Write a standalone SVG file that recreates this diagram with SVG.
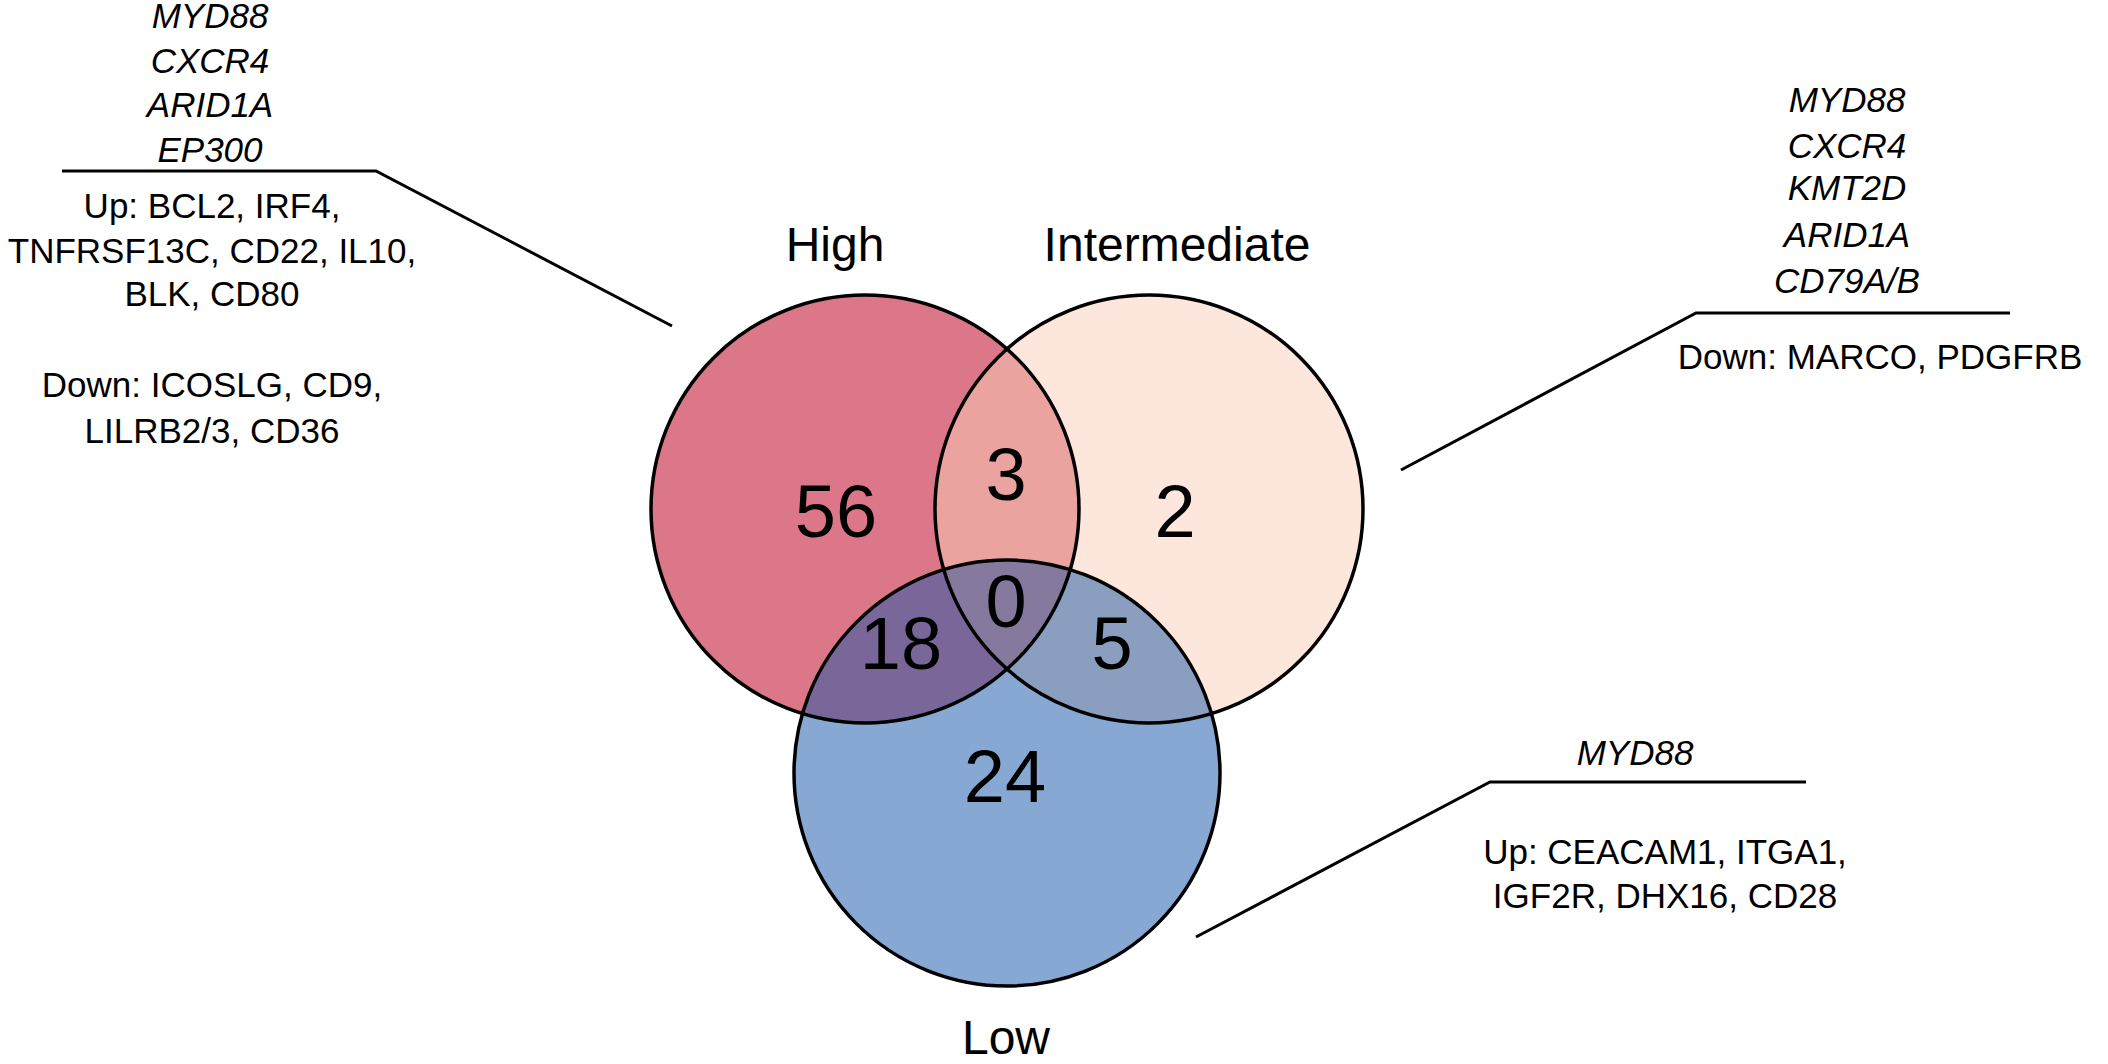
<svg xmlns="http://www.w3.org/2000/svg" width="2108" height="1064" viewBox="0 0 2108 1064">
<style>
text{font-family:"Liberation Sans",Arial,sans-serif;fill:#000;text-anchor:middle}
.g{font-style:italic;font-size:35px}
.t{font-size:35px}
.lab{font-size:48px}
.n{font-size:74px}
.ol{fill:none;stroke:#000;stroke-width:3.5}
.ln{fill:none;stroke:#000;stroke-width:3}
</style>
<defs>
<clipPath id="cH"><circle cx="865" cy="509" r="214"/></clipPath>
<clipPath id="cI"><circle cx="1149" cy="509" r="214"/></clipPath>
<clipPath id="cL"><circle cx="1007" cy="773" r="213"/></clipPath>
</defs>
<rect width="2108" height="1064" fill="#fff"/>
<g id="fills">
<circle cx="865" cy="509" r="214" fill="#dc7789"/>
<circle cx="1149" cy="509" r="214" fill="#fde6dc"/>
<circle cx="1007" cy="773" r="213" fill="#87a8d2"/>
<g clip-path="url(#cH)"><circle cx="1149" cy="509" r="214" fill="#eba3a0"/><circle cx="1007" cy="773" r="213" fill="#7a6799"/></g>
<g clip-path="url(#cI)"><circle cx="1007" cy="773" r="213" fill="#8a9ebf"/></g>
<g clip-path="url(#cH)"><g clip-path="url(#cI)"><circle cx="1007" cy="773" r="213" fill="#857a9e"/></g></g>
</g>
<g id="high"><circle class="ol" cx="865" cy="509" r="214"/><text class="lab" x="835" y="261">High</text></g>
<g id="intermediate"><circle class="ol" cx="1149" cy="509" r="214"/><text class="lab" x="1177" y="261">Intermediate</text></g>
<g id="low"><circle class="ol" cx="1007" cy="773" r="213"/><text class="lab" x="1006" y="1054">Low</text></g>
<g id="counts">
<text class="n" x="836" y="537">56</text>
<text class="n" x="1006" y="500">3</text>
<text class="n" x="1175" y="537">2</text>
<text class="n" x="1006" y="627">0</text>
<text class="n" x="901" y="669">18</text>
<text class="n" x="1112" y="669">5</text>
<text class="n" x="1005" y="802">24</text>
</g>
<g id="connectors">
<polyline class="ln" points="62,171 376,171 672,326"/>
<polyline class="ln" points="1401,470 1696,313 2010,313"/>
<polyline class="ln" points="1196,937 1490,782 1806,782"/>
</g>
<g id="note-high">
<text class="g" x="210" y="28">MYD88</text>
<text class="g" x="210" y="73">CXCR4</text>
<text class="g" x="210" y="117">ARID1A</text>
<text class="g" x="210" y="162">EP300</text>
<text class="t" x="212" y="218">Up: BCL2, IRF4,</text>
<text class="t" x="212" y="263">TNFRSF13C, CD22, IL10,</text>
<text class="t" x="212" y="306">BLK, CD80</text>
<text class="t" x="212" y="397">Down: ICOSLG, CD9,</text>
<text class="t" x="212" y="443">LILRB2/3, CD36</text>
</g>
<g id="note-intermediate">
<text class="g" x="1847" y="112">MYD88</text>
<text class="g" x="1847" y="158">CXCR4</text>
<text class="g" x="1847" y="200">KMT2D</text>
<text class="g" x="1847" y="247">ARID1A</text>
<text class="g" x="1847" y="293">CD79A/B</text>
<text class="t" x="1880" y="369">Down: MARCO, PDGFRB</text>
</g>
<g id="note-low">
<text class="g" x="1635" y="765">MYD88</text>
<text class="t" x="1665" y="864">Up: CEACAM1, ITGA1,</text>
<text class="t" x="1665" y="908">IGF2R, DHX16, CD28</text>
</g>
</svg>
